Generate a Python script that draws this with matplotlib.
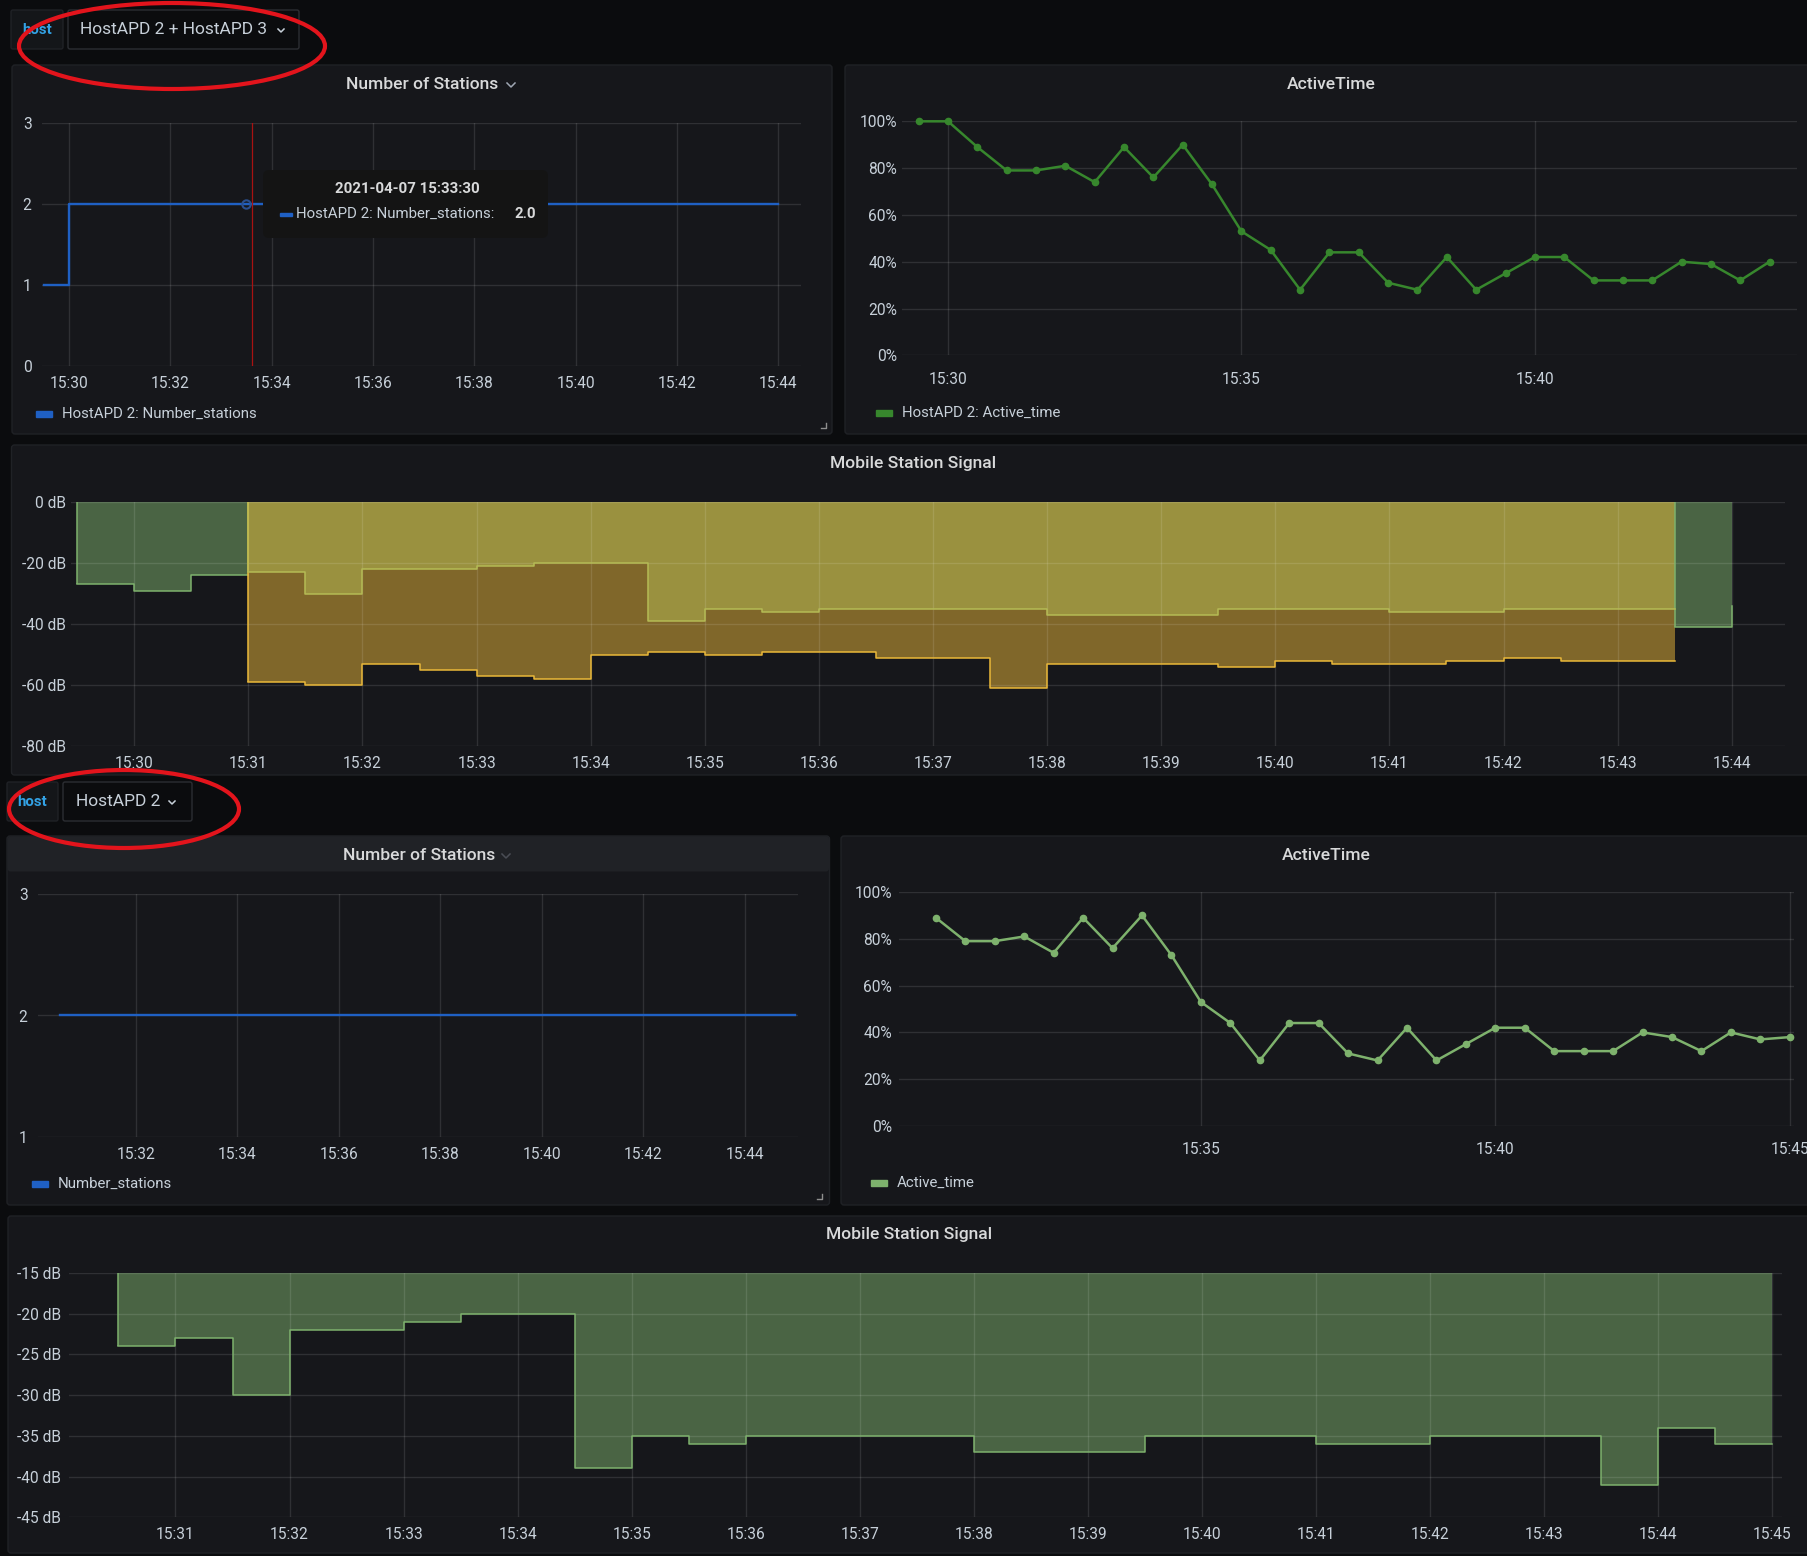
import numpy as np
import pandas as pd
import matplotlib
matplotlib.use('Agg')
import matplotlib.pyplot as plt
import matplotlib.dates as mdates
from matplotlib.patches import FancyBboxPatch, Ellipse, Rectangle
from matplotlib.ticker import FuncFormatter

plt.rcParams['font.family'] = ['Roboto', 'DejaVu Sans']

nan = np.nan
day = '2021-04-07 '

# ---- data ----
stn_top_t = pd.date_range(day + '15:29:30', day + '15:44:00', freq='30s').to_pydatetime()
stn_top = [1, 2, 2, 2, 2, 2, 2, 2, 2, 2, 2, 2, 2, 2, 2,
           2, 2, 2, 2, 2, 2, 2, 2, 2, 2, 2, 2, 2, 2, 2]

stn_bot_t = pd.date_range(day + '15:30:30', day + '15:45:00', freq='30s').to_pydatetime()
stn_bot = [2, 2, 2, 2, 2, 2, 2, 2, 2, 2, 2, 2, 2, 2, 2,
           2, 2, 2, 2, 2, 2, 2, 2, 2, 2, 2, 2, 2, 2, 2]

act_top_t = pd.date_range(day + '15:29:30', day + '15:44:00', freq='30s').to_pydatetime()
act_top = [100, 100, 89, 79, 79, 81, 74, 89, 76, 90, 73, 53, 45, 28, 44,
           44, 31, 28, 42, 28, 35, 42, 42, 32, 32, 32, 40, 39, 32, 40]

act_bot_t = pd.date_range(day + '15:30:30', day + '15:45:00', freq='30s').to_pydatetime()
act_bot = [89, 79, 79, 81, 74, 89, 76, 90, 73, 53, 44, 28, 44, 44, 31,
           28, 42, 28, 35, 42, 42, 32, 32, 32, 40, 38, 32, 40, 37, 38]

sig_top_t = pd.date_range(day + '15:29:30', day + '15:44:00', freq='30s').to_pydatetime()
sig_green = [-27, -29, -24] + [nan] * 25 + [-41, -34]
sig_low = [nan, nan, nan,
           -59, -60, -53, -55, -57, -58, -50, -49, -50, -49, -49, -51, -51,
           -61, -53, -53, -53, -54, -52, -53, -53, -52, -51, -52, -52,
           nan, nan]
sig_high = [nan, nan, nan,
            -23, -30, -22, -22, -21, -20, -20, -39, -35, -36, -35, -35, -35,
            -35, -37, -37, -37, -35, -35, -35, -36, -36, -35, -35, -35,
            nan, nan]

sig_bot_t = pd.date_range(day + '15:30:30', day + '15:45:00', freq='30s').to_pydatetime()
sig_bot = [-24, -23, -30, -22, -22, -21, -20, -20, -39, -35, -36, -35, -35, -35, -35,
           -37, -37, -37, -35, -35, -35, -36, -36, -35, -35, -35, -41, -34, -36, -36]

# ---- colours ----
BG = '#0b0c0e'
PANEL = '#16171b'
BORDER = '#202226'
TXT = '#c7d0d9'
TITLE = '#d8d9da'
BLUE = '#1F60C4'
DKGREEN = '#37872D'
GREEN = '#7EB26D'
YELLOW = '#EAB839'
OLIVE = '#B5BB55'

W, H = 1808, 1556
fig = plt.figure(figsize=(W / 100, H / 100), dpi=100, facecolor=BG)


def box(x0, y0, x1, y1):
    return [x0 / W, 1 - y1 / H, (x1 - x0) / W, (y1 - y0) / H]


bg = fig.add_axes([0, 0, 1, 1], zorder=0)
bg.set_xlim(0, W); bg.set_ylim(H, 0); bg.axis('off')
top = fig.add_axes([0, 0, 1, 1], zorder=10)
top.set_xlim(0, W); top.set_ylim(H, 0); top.axis('off')
top.patch.set_alpha(0)


def panel(x0, y0, x1, y1):
    bg.add_patch(FancyBboxPatch((x0, y0), x1 - x0, y1 - y0,
                                boxstyle='round,pad=0,rounding_size=3',
                                fc=PANEL, ec=BORDER, lw=1))


def chevron(ax, x, y, c='#9fa7b3', s=4):
    ax.plot([x - s, x, x + s], [y - s / 2, y + s / 2, y - s / 2], color=c, lw=1.1)


def corner(x, y):
    bg.plot([x, x, x - 5], [y - 5, y, y], color='#8e8e8e', lw=1)


def legend(x, y, color, label):
    bg.add_patch(Rectangle((x, y - 3), 16, 6, color=color))
    bg.text(x + 26, y, label, color=TXT, fontsize=10.8, va='center', ha='left')


# panels
panel(12, 65, 832, 434)
panel(845, 65, W + 10, 434)
panel(11.5, 445, W + 10, 775)
panel(7, 836, 829.5, 1205)
bg.add_patch(FancyBboxPatch((7.5, 836.5), 821.5, 35, boxstyle='round,pad=0,rounding_size=3',
                            fc='#202226', ec='none'))
panel(841, 836, W + 10, 1205)
panel(8, 1216, W + 10, 1553)

# titles
bg.text(422, 84, 'Number of Stations', color=TITLE, fontsize=12.6, fontweight='medium',
        ha='center', va='center')
chevron(bg, 511, 85)
bg.text(1331, 84, 'ActiveTime', color=TITLE, fontsize=12.6, fontweight='medium',
        ha='center', va='center')
bg.text(913, 463, 'Mobile Station Signal', color=TITLE, fontsize=12.6, fontweight='medium',
        ha='center', va='center')
bg.text(419, 855, 'Number of Stations', color=TITLE, fontsize=12.6, fontweight='medium',
        ha='center', va='center')
chevron(bg, 506, 856, c='#4a4d55')
bg.text(1326, 855, 'ActiveTime', color=TITLE, fontsize=12.6, fontweight='medium',
        ha='center', va='center')
bg.text(909, 1235, 'Mobile Station Signal', color=TITLE, fontsize=12.6, fontweight='medium',
        ha='center', va='center')

legend(36, 414, BLUE, 'HostAPD 2: Number_stations')
legend(876, 413, DKGREEN, 'HostAPD 2: Active_time')
legend(32, 1184, BLUE, 'Number_stations')
legend(871, 1183, GREEN, 'Active_time')
corner(826, 428)
corner(822, 1199)

# variable pickers
for (hx0, hx1, dx1, y0, y1, label, tx, cx) in [
        (11, 63, 299, 10, 49, 'HostAPD 2 + HostAPD 3', 80, 281),
        (7, 58, 192, 782, 821, 'HostAPD 2', 76, 172)]:
    bg.add_patch(FancyBboxPatch((hx0, y0), hx1 - hx0, y1 - y0, boxstyle='round,pad=0,rounding_size=2',
                                fc='#141619', ec='#202226', lw=1))
    bg.text((hx0 + hx1) / 2, (y0 + y1) / 2, 'host', color='#33a2e5', fontsize=10.8,
            fontweight='bold', ha='center', va='center')
    bg.add_patch(FancyBboxPatch((hx1 + 5, y0), dx1 - hx1 - 5, y1 - y0,
                                boxstyle='round,pad=0,rounding_size=2',
                                fc=BG, ec='#2c2e33', lw=1))
    bg.text(tx, (y0 + y1) / 2, label, color=TXT, fontsize=12.5, ha='left', va='center')
    chevron(bg, cx, (y0 + y1) / 2 + 1, c=TXT, s=3)


def style(ax, xlim, ylim, xticks, yticks, yfmt, xpad, ypad):
    ax.patch.set_alpha(0)
    for s in ax.spines.values():
        s.set_visible(False)
    ax.set_xlim(pd.Timestamp(day + xlim[0]).to_pydatetime(), pd.Timestamp(day + xlim[1]).to_pydatetime())
    ax.set_ylim(*ylim)
    ax.set_xticks(pd.to_datetime([day + x for x in xticks]).to_pydatetime())
    ax.set_yticks(yticks)
    ax.xaxis.set_major_formatter(mdates.DateFormatter('%H:%M'))
    ax.yaxis.set_major_formatter(FuncFormatter(yfmt))
    ax.tick_params(length=0, labelsize=11.2, labelcolor=TXT)
    ax.tick_params(axis='x', pad=xpad * 0.72)
    ax.tick_params(axis='y', pad=ypad * 0.72)
    ax.grid(True, color='white', alpha=0.11, lw=1)
    ax.set_axisbelow(False)


def steps(ax, t, v, color):
    v = np.asarray(v, float)
    ok = ~np.isnan(v)
    ax.fill_between(t, np.where(ok, v, 0), 0, step='post', color=color, alpha=0.5, lw=0, zorder=1)
    idx = np.flatnonzero(ok)
    for r in np.split(idx, np.flatnonzero(np.diff(idx) > 1) + 1):
        end = min(r[-1] + 1, len(t) - 1)
        xs = list(t[r])
        ys = list(v[r])
        if end > r[-1]:
            xs.append(t[end]); ys.append(v[r[-1]])
        ax.step(xs, ys, where='post', color=color, lw=1.1, zorder=3)
        ax.vlines(t[r[0]], v[r[0]], 0, color=color, lw=1.1, zorder=3)


pct = lambda v, p: '%d%%' % v
db = lambda v, p: '%d dB' % v
num = lambda v, p: '%d' % v

# Number of Stations (top)
ax1 = fig.add_axes(box(42, 122.7, 801, 366), zorder=2)
style(ax1, ('15:29:28', '15:44:27'), (0, 3),
      ['15:%02d' % m for m in range(30, 45, 2)], [0, 1, 2, 3], num, 10.5, 10.4)
ax1.step(stn_top_t, stn_top, where='post', color=BLUE, lw=1.7, zorder=3)
ax1.axvline(pd.Timestamp(day + '15:33:37').to_pydatetime(), color='#a81212', lw=0.9, zorder=4)
ax1.plot(pd.Timestamp(day + '15:33:30').to_pydatetime(), 2, 'o', mfc='none', mec='#2a4f8f',
         ms=6, mew=1.5, zorder=4)

# ActiveTime (top)
ax2 = fig.add_axes(box(902, 121.3, 1797, 355.3), zorder=2)
style(ax2, ('15:29:13', '15:44:28'), (0, 100),
      ['15:30', '15:35', '15:40'], [0, 20, 40, 60, 80, 100], pct, 16.5, 5)
ax2.plot(act_top_t, act_top, color=DKGREEN, lw=1.8, marker='o', ms=4.5, zorder=3, clip_on=False)

# Mobile Station Signal (top)
ax3 = fig.add_axes(box(71.5, 502, 1785, 746.3), zorder=2)
style(ax3, ('15:29:27', '15:44:28'), (-80, 0),
      ['15:%02d' % m for m in range(30, 45)], [-80, -60, -40, -20, 0], db, 9.7, 5.5)
steps(ax3, sig_top_t, sig_green, GREEN)
steps(ax3, sig_top_t, sig_low, YELLOW)
steps(ax3, sig_top_t, sig_high, OLIVE)

# Number of Stations (bottom)
ax4 = fig.add_axes(box(37.9, 893.7, 798, 1137.3), zorder=2)
style(ax4, ('15:30:04', '15:45:03'), (1, 3),
      ['15:%02d' % m for m in range(32, 45, 2)], [1, 2, 3], num, 9.5, 10.3)
ax4.step(stn_bot_t, stn_bot, where='post', color=BLUE, lw=1.7, zorder=3)

# ActiveTime (bottom)
ax5 = fig.add_axes(box(898.6, 892, 1793.7, 1126), zorder=2)
style(ax5, ('15:29:52', '15:45:04'), (0, 100),
      ['15:35', '15:40', '15:45'], [0, 20, 40, 60, 80, 100], pct, 16.5, 6.6)
ax5.plot(act_bot_t, act_bot, color=GREEN, lw=1.8, marker='o', ms=4.5, zorder=3, clip_on=False)

# Mobile Station Signal (bottom)
ax6 = fig.add_axes(box(69, 1273, 1782, 1517.3), zorder=2)
style(ax6, ('15:30:04', '15:45:05'), (-45, -15),
      ['15:%02d' % m for m in range(31, 46)], [-45, -40, -35, -30, -25, -20, -15], db, 9.7, 8)
steps(ax6, sig_bot_t, sig_bot, GREEN)

# hover tooltip
top.add_patch(FancyBboxPatch((263, 170), 285, 68, boxstyle='round,pad=0,rounding_size=6',
                             fc='#141414', ec='none'))
top.text(407, 189, '2021-04-07 15:33:30', color=TITLE, fontsize=10.8, fontweight='bold',
         ha='center', va='center')
top.add_patch(Rectangle((280, 212.5), 12, 3.5, color=BLUE))
top.text(296, 214, 'HostAPD 2: Number_stations:', color=TXT, fontsize=10.8, ha='left', va='center')
top.text(515, 214, '2.0', color=TITLE, fontsize=10.8, fontweight='bold', ha='left', va='center')

# red annotation ellipses
top.add_patch(Ellipse((172, 46), 306, 86, fill=False, ec='#e3141c', lw=3))
top.add_patch(Ellipse((124, 809), 230, 78, fill=False, ec='#e3141c', lw=3))

fig.savefig('out.png', dpi=100, facecolor=BG)
